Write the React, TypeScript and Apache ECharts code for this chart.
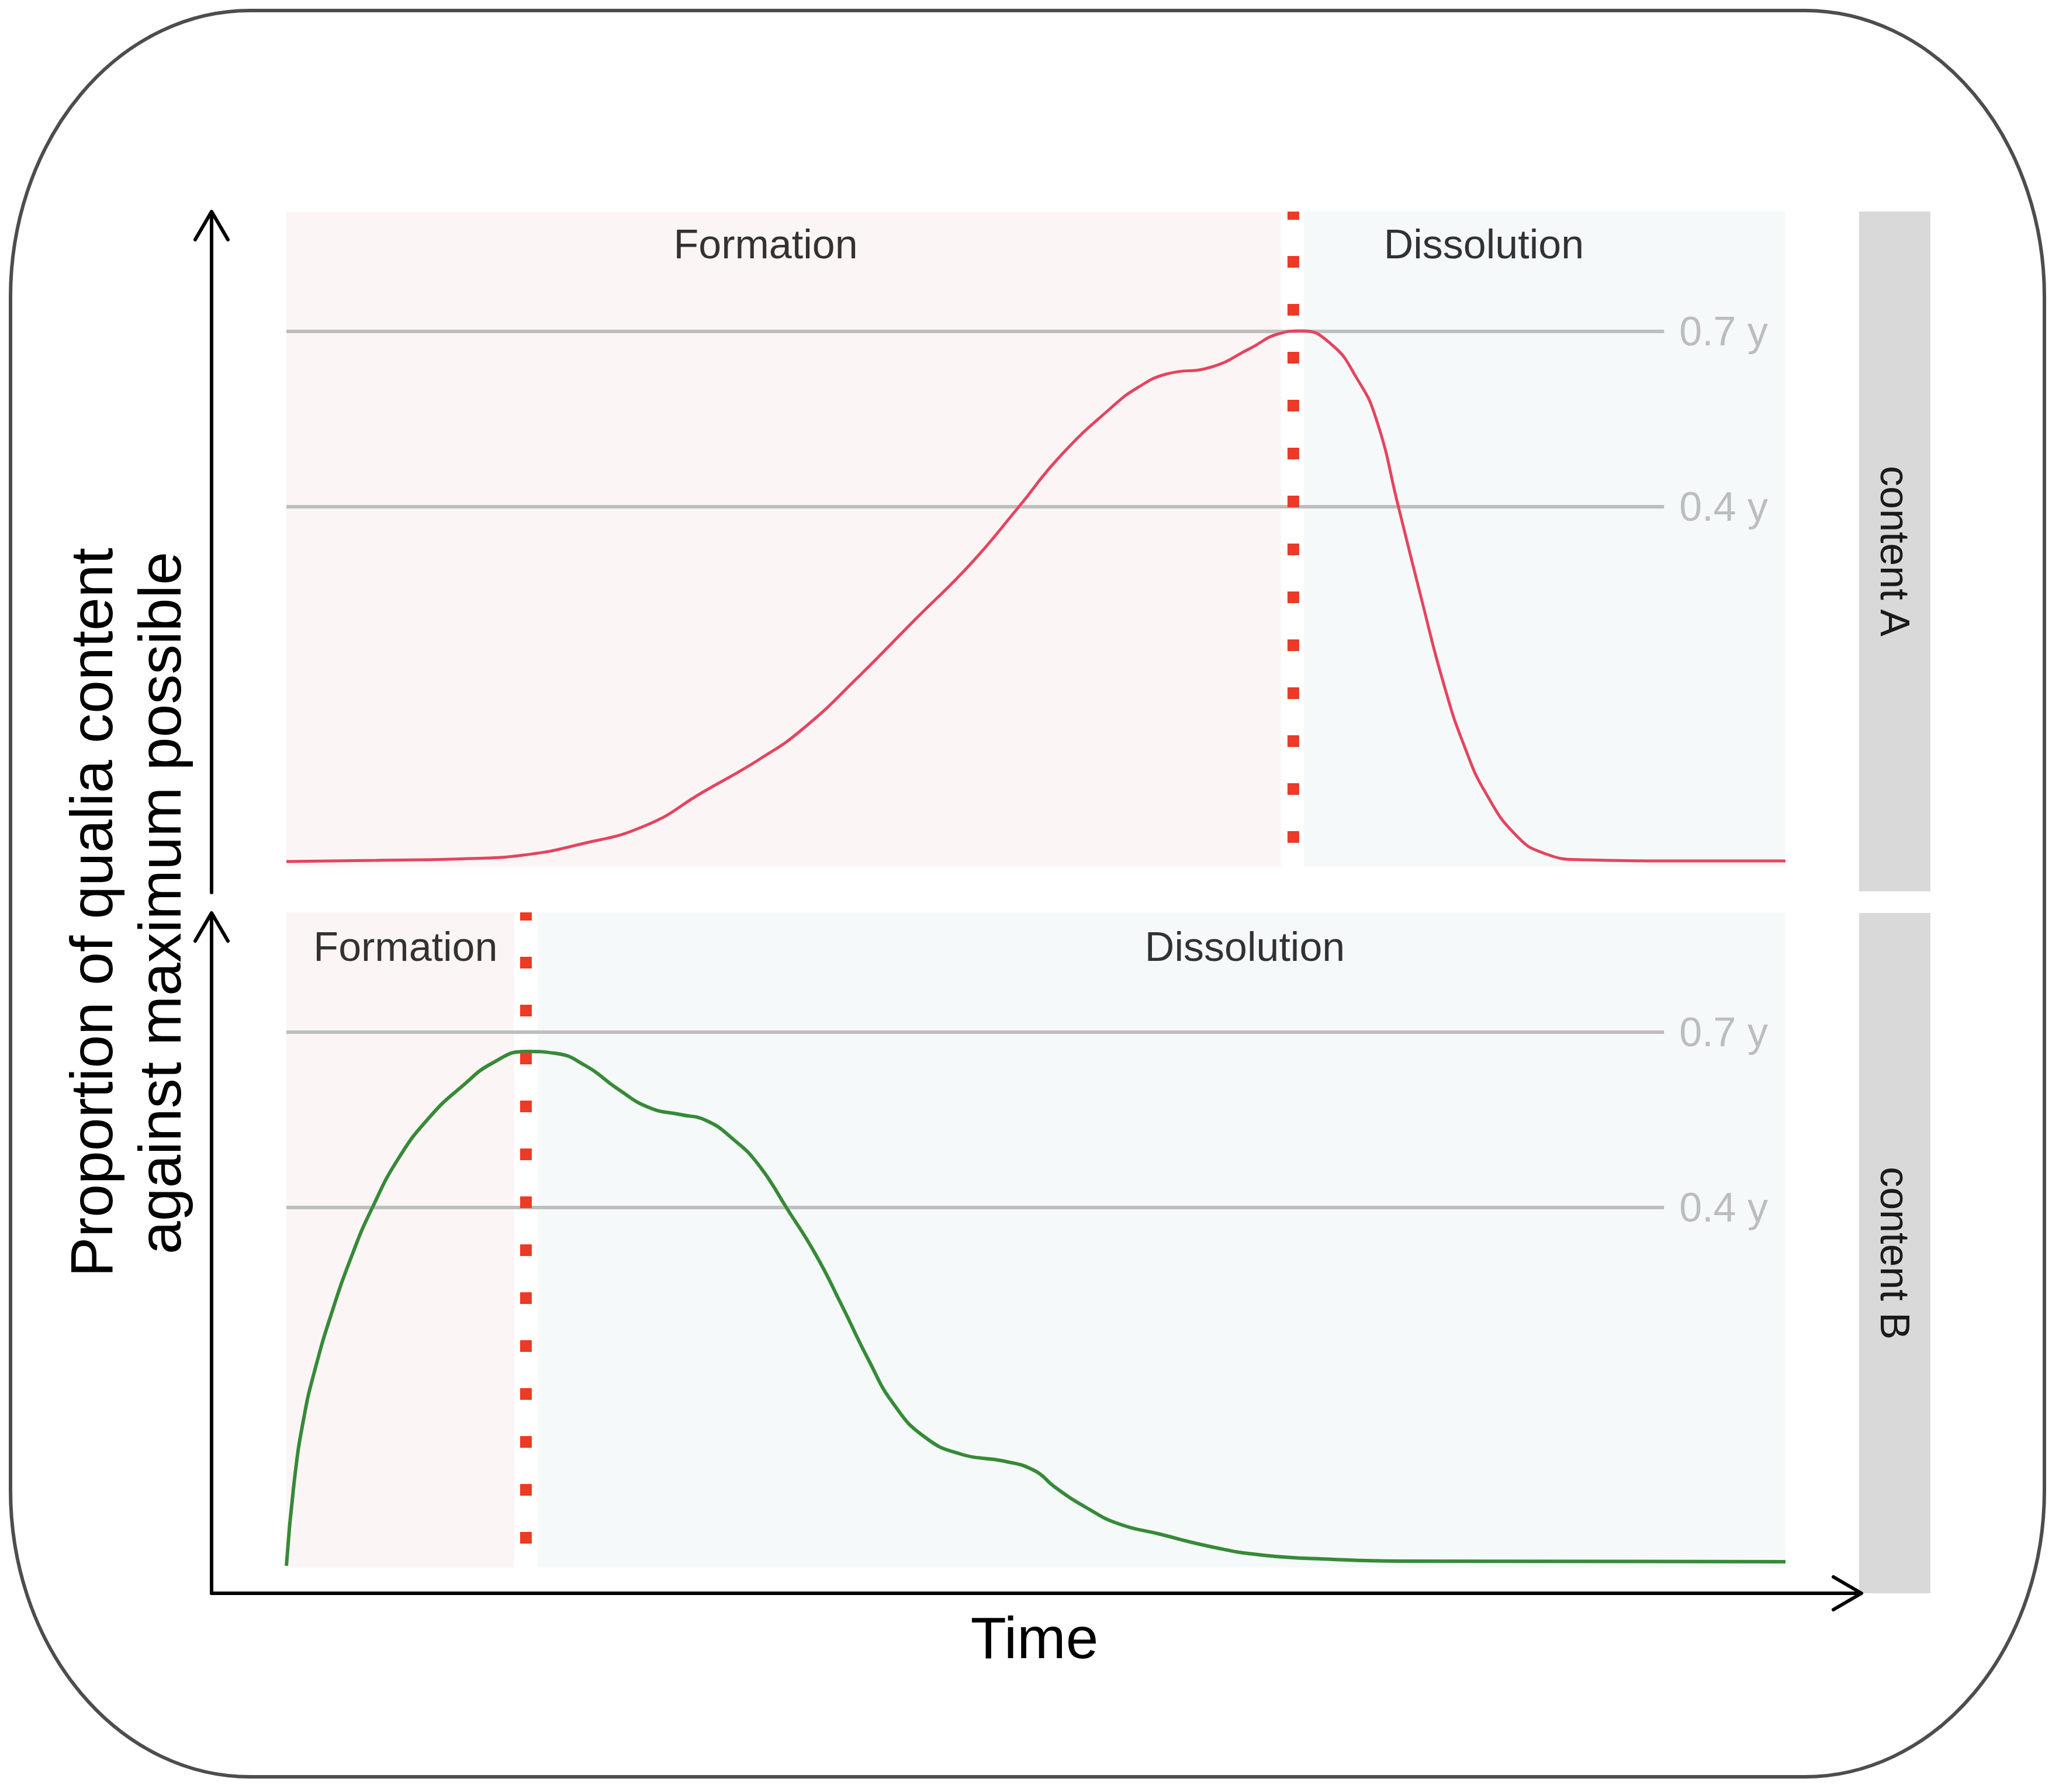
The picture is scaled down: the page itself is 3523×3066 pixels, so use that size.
import React, { useEffect, useRef } from 'react';
import * as echarts from 'echarts';

// ---- data ----
const X_RANGE = [0, 100];
const Y_RANGE = [-0.216, 0.905];

const panelNames = ['content A', 'content B'];
const phaseNames = ['Formation', 'Dissolution'];

const refLevels = [0.7, 0.4];
const refLabels = ['0.7 y', '0.4 y'];
const refLineEnd = 91.9;

const contentA_x = [0, 6, 12.1, 15.8, 19.5, 24.0, 27.8, 31.5, 34.5, 38.2, 41.9, 45.6, 48.8, 51.6, 55.0, 56.8, 58.7, 61.7, 64.3, 66.2, 67.7, 69.7, 71.4, 72.7, 74.2, 75.7, 77.2, 78.6, 80.1, 82.1, 83.9, 86.4, 92, 100];
const contentA_y = [-0.207, -0.205, -0.202, -0.196, -0.178, -0.145, -0.088, -0.033, 0.021, 0.110, 0.206, 0.301, 0.398, 0.486, 0.569, 0.604, 0.627, 0.639, 0.671, 0.696, 0.701, 0.678, 0.620, 0.550, 0.398, 0.244, 0.097, -0.011, -0.094, -0.164, -0.193, -0.204, -0.206, -0.206];

const contentB_x = [0, 0.55, 1.2, 1.9, 3.0, 4.4, 5.7, 7.5, 9.6, 11.7, 13.8, 16.0, 17.9, 20.0, 22.1, 24.2, 26.3, 28.0, 29.8, 31.5, 33.4, 35.3, 37.1, 38.8, 40.5, 42.6, 45.0, 47.9, 49.9, 51.3, 53.4, 55.5, 58.3, 61.8, 65.2, 69.8, 74.3, 100];
const contentB_y = [-0.213, -0.063, 0.045, 0.122, 0.218, 0.320, 0.398, 0.485, 0.556, 0.607, 0.648, 0.667, 0.664, 0.642, 0.603, 0.571, 0.559, 0.549, 0.517, 0.473, 0.398, 0.320, 0.230, 0.141, 0.064, 0.007, -0.022, -0.034, -0.050, -0.079, -0.114, -0.141, -0.159, -0.181, -0.195, -0.202, -0.205, -0.206];

const peakTime = [67.17, 15.98];
const formationEnd = [66.35, 15.2];
const dissolutionStart = [67.88, 16.76];
const phaseLabelX = [[31.97, 79.88], [7.95, 63.94]];
const phaseLabelY = [0.849, 0.846];

const curveXs = [contentA_x, contentB_x];
const curveYs = [contentA_y, contentB_y];
const curveColors = ['#E5445E', '#378A37'];
const curveWidths = [5, 6];

const FONT = '"Liberation Sans", Arial, Helvetica, sans-serif';

const W = 3523;
const H = 3066;

const frameL = 18, frameT = 18, frameR = 3498, frameB = 3040, rx = 410, ry = 490;
const frameD = `M ${frameL + rx} ${frameT} L ${frameR - rx} ${frameT} A ${rx} ${ry} 0 0 1 ${frameR} ${frameT + ry} L ${frameR} ${frameB - ry} A ${rx} ${ry} 0 0 1 ${frameR - rx} ${frameB} L ${frameL + rx} ${frameB} A ${rx} ${ry} 0 0 1 ${frameL} ${frameB - ry} L ${frameL} ${frameT + ry} A ${rx} ${ry} 0 0 1 ${frameL + rx} ${frameT} Z`;

let registered = false;
function ensureShape() {
  if (registered) return;
  echarts.graphic.registerShape('roundFrame', echarts.graphic.extendPath(frameD, {}));
  registered = true;
}

function txt(x: number, y: number, text: string, size: number, rotation: number, fill = '#000') {
  return {
    type: 'text',
    x,
    y,
    rotation,
    silent: true,
    style: {
      text,
      fill,
      fontSize: size,
      fontFamily: FONT,
      align: 'center',
      verticalAlign: 'middle',
      textAlign: 'center',
      textVerticalAlign: 'middle',
    },
  };
}

export default function App() {
  const ref = useRef<HTMLDivElement>(null);

  useEffect(() => {
    if (!ref.current) return;
    ensureShape();
    const chart = echarts.init(ref.current, undefined, { renderer: 'svg', width: W, height: H });

    const grids = [
      { left: 490, top: 362, width: 2565, height: 1121 },
      { left: 490, top: 1561, width: 2565, height: 1121 },
    ];

    const series: any[] = [];
    for (let i = 0; i < 2; i++) {
      series.push({
        type: 'line',
        name: panelNames[i],
        xAxisIndex: i,
        yAxisIndex: i,
        data: curveXs[i].map((x, k) => [x, curveYs[i][k]]),
        smooth: 0.5,
        symbol: 'none',
        silent: true,
        z: 3,
        lineStyle: { color: curveColors[i], width: curveWidths[i] },
        markArea: {
          silent: true,
          z: 1,
          data: [
            [{ xAxis: X_RANGE[0], itemStyle: { color: '#FCF5F5' } }, { xAxis: formationEnd[i] }],
            [{ xAxis: dissolutionStart[i], itemStyle: { color: '#F5F9FA' } }, { xAxis: X_RANGE[1] }],
          ],
        },
        markLine: {
          silent: true,
          z: 2,
          symbol: ['none', 'none'],
          lineStyle: { color: '#BEBEBE', width: 6, type: 'solid' },
          label: {
            show: true,
            position: 'end',
            distance: 26,
            formatter: '{b}',
            color: '#BDBDBD',
            fontSize: 70,
            fontFamily: FONT,
          },
          data: refLevels.map((v, k) => [
            { name: refLabels[k], coord: [X_RANGE[0], v] },
            { coord: [refLineEnd, v] },
          ]),
        },
      });
      series.push({
        type: 'line',
        name: 'peak ' + panelNames[i],
        xAxisIndex: i,
        yAxisIndex: i,
        data: [
          [peakTime[i], Y_RANGE[1]],
          [peakTime[i], Y_RANGE[0]],
        ],
        symbol: 'none',
        silent: true,
        z: 4,
        lineStyle: { color: '#EC3A26', width: 20, type: [20, 62], dashOffset: 6, cap: 'butt' },
      });
      series.push({
        type: 'scatter',
        name: 'phases ' + panelNames[i],
        xAxisIndex: i,
        yAxisIndex: i,
        symbolSize: 1,
        silent: true,
        z: 5,
        itemStyle: { color: 'rgba(0,0,0,0)' },
        label: {
          show: true,
          position: 'inside',
          formatter: (p: any) => p.data[2],
          fontSize: 70,
          color: '#000',
          textBorderWidth: 0,
          fontFamily: FONT,
        },
        data: phaseNames.map((n, k) => [phaseLabelX[i][k], phaseLabelY[i], n]),
      });
    }

    const axisLine = { stroke: '#000', lineWidth: 6, lineCap: 'round', lineJoin: 'round', fill: 'none' };

    const graphic: any[] = [
      { type: 'roundFrame', x: 0, y: 0, scaleX: 1, scaleY: 1, silent: true, style: { fill: 'none', stroke: '#4D4D4D', lineWidth: 6 } },
      // facet strips
      { type: 'rect', silent: true, shape: { x: 3181, y: 362, width: 122, height: 1163 }, style: { fill: '#D9D9D9' } },
      { type: 'rect', silent: true, shape: { x: 3181, y: 1562, width: 122, height: 1164 }, style: { fill: '#D9D9D9' } },
      txt(3242, 943, panelNames[0], 70, -Math.PI / 2, '#1A1A1A'),
      txt(3242, 2144, panelNames[1], 70, -Math.PI / 2, '#1A1A1A'),
      // axis arrows
      { type: 'line', silent: true, shape: { x1: 362, y1: 1527, x2: 362, y2: 364 }, style: axisLine },
      { type: 'polyline', silent: true, shape: { points: [[334, 410], [362, 362], [390, 410]] }, style: axisLine },
      { type: 'line', silent: true, shape: { x1: 362, y1: 2726, x2: 362, y2: 1564 }, style: axisLine },
      { type: 'polyline', silent: true, shape: { points: [[334, 1610], [362, 1562], [390, 1610]] }, style: axisLine },
      { type: 'line', silent: true, shape: { x1: 362, y1: 2726, x2: 3183, y2: 2726 }, style: axisLine },
      { type: 'polyline', silent: true, shape: { points: [[3137, 2698], [3185, 2726], [3137, 2754]] }, style: axisLine },
      // axis titles
      txt(157, 1561, 'Proportion of qualia content', 102, Math.PI / 2),
      txt(274, 1545, 'against maximum possible', 102, Math.PI / 2),
      txt(1770, 2802, 'Time', 100, 0),
    ];

    chart.setOption({
      animation: false,
      backgroundColor: '#FFFFFF',
      grid: grids.map((g) => ({ ...g, containLabel: false })),
      xAxis: [0, 1].map((i) => ({
        type: 'value',
        gridIndex: i,
        min: X_RANGE[0],
        max: X_RANGE[1],
        show: false,
      })),
      yAxis: [0, 1].map((i) => ({
        type: 'value',
        gridIndex: i,
        min: Y_RANGE[0],
        max: Y_RANGE[1],
        show: false,
      })),
      series,
      graphic: { elements: graphic },
    });

    return () => {
      chart.dispose();
    };
  }, []);

  return (
    <div
      ref={ref}
      style={{ position: 'fixed', left: 0, top: 0, width: W, height: H, background: '#fff' }}
    />
  );
}
